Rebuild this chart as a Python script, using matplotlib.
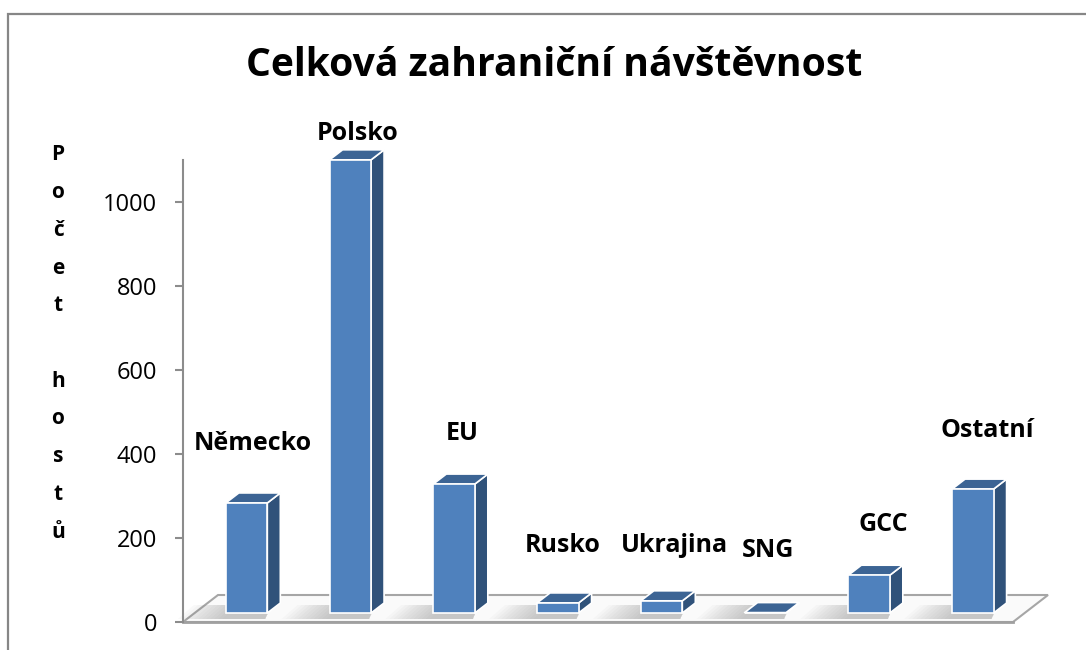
import matplotlib
matplotlib.use('Agg')
import matplotlib.pyplot as plt
from matplotlib.patches import Polygon, Rectangle
from matplotlib.transforms import offset_copy

# ---- data ----
categories = ['Německo', 'Polsko', 'EU', 'Rusko', 'Ukrajina', 'SNG', 'GCC', 'Ostatní']
visitors = [262, 1079, 307, 24, 29, 1, 90, 295]
yticks = [0, 200, 400, 600, 800, 1000]
title = 'Celková zahraniční návštěvnost'
ylabel = 'Počet hostů'
# label anchor positions (data units)
label_x = [0.175, 1.18, 2.19, 3.16, 4.24, 5.14, 6.25, 7.25]
label_y = [426, 1164, 450, 181, 181, 171, 231, 457]

plt.rcParams['font.family'] = ['Open Sans', 'DejaVu Sans']

W, H = 1086, 650
fig = plt.figure(figsize=(W / 100, H / 100), dpi=100)
ax_l, ax_r, ax_b, ax_t = 183, 1013, 622, 160
ax = fig.add_axes([ax_l / W, 1 - ax_b / H, (ax_r - ax_l) / W, (ax_b - ax_t) / H])
n = len(categories)
ymax = 1100
ax.set_xlim(-0.5, n - 0.5)
ax.set_ylim(0, ymax)
ppx = (ax_r - ax_l) / n
ppy = (ax_b - ax_t) / ymax

front = '#4F81BD'
topc = '#3C6494'
sidec = '#30527A'
grey = '#8C8C8C'

# floor
fdx, fdy = 35 / ppx, 27 / ppy
floor = Polygon([(-0.5, 0), (n - 0.5, 0), (n - 0.5 + fdx, fdy), (-0.5 + fdx, fdy)],
                closed=True, facecolor='#FAFAFA', edgecolor='#A6A6A6', lw=1.5,
                clip_on=False, zorder=1)
ax.add_patch(floor)
ax.plot([-0.5, n - 0.5], [0, 0], color='#A0A0A0', lw=2, clip_on=False, zorder=1.5)

# bars placed one third into the floor depth
tr = offset_copy(ax.transData, fig=fig, x=11.7, y=9, units='dots')
bw = 0.4
ddx, ddy = 13 / ppx, 10 / ppy

for i, v in enumerate(visitors):
    x0, x1 = i - bw / 2, i + bw / 2
    # soft shadow on floor
    for k in range(12):
        s = (k + 1) * 4 / ppx
        sh = Polygon([(x0 - s, -6 / ppy), (x1 - 2 / ppx, -6 / ppy),
                      (x1 + 4 / ppx, 8 / ppy), (x0 - s + 16 / ppx, 8 / ppy)],
                     closed=True, facecolor='#7F7F7F', edgecolor='none',
                     alpha=0.04, transform=tr, zorder=2, clip_on=False)
        ax.add_patch(sh)
    side = Polygon([(x1, 0), (x1 + ddx, ddy), (x1 + ddx, v + ddy), (x1, v)], closed=True,
                   facecolor=sidec, edgecolor='white', lw=1.2, transform=tr, zorder=3,
                   clip_on=False, joinstyle='round')
    top = Polygon([(x0, v), (x1, v), (x1 + ddx, v + ddy), (x0 + ddx, v + ddy)], closed=True,
                  facecolor=topc, edgecolor='white', lw=1.2, transform=tr, zorder=3,
                  clip_on=False, joinstyle='round')
    ax.add_patch(side)
    ax.add_patch(top)
ax.bar(range(n), visitors, width=bw, color=front, edgecolor='white', linewidth=1.2,
       transform=tr, zorder=4, clip_on=False)

for cx, cy, name in zip(label_x, label_y, categories):
    ax.text(cx, cy, name, ha='center', va='center', fontsize=18, fontweight='bold',
            color='black', zorder=6, clip_on=False)

# axes styling
for s in ['top', 'right', 'bottom']:
    ax.spines[s].set_visible(False)
ax.spines['left'].set_color(grey)
ax.spines['left'].set_linewidth(1.5)
ax.set_xticks([])
ax.set_yticks(yticks)
ax.set_yticklabels([str(t) for t in yticks])
ax.tick_params(axis='y', length=5.5, width=1.5, color=grey, pad=13, labelsize=17,
               labelcolor='black')
ax.patch.set_visible(False)

# vertical stacked y label
letters = list(ylabel)
y0, step = 155, 37.7
for k, ch in enumerate(letters):
    if ch.strip():
        fig.text(58 / W, 1 - (y0 + k * step) / H, ch, ha='center', va='center',
                 fontsize=15, fontweight='bold')

fig.text(554 / W, 1 - 66 / H, title, ha='center', va='center', fontsize=28.2,
         fontweight='bold')

# chart border
fig.patches.append(Rectangle((8 / W, -0.1), 1.2, (H - 14) / H + 0.1,
                             transform=fig.transFigure, fill=False,
                             edgecolor='#868686', lw=1.6))

fig.savefig('out.png', dpi=100, facecolor='white')
